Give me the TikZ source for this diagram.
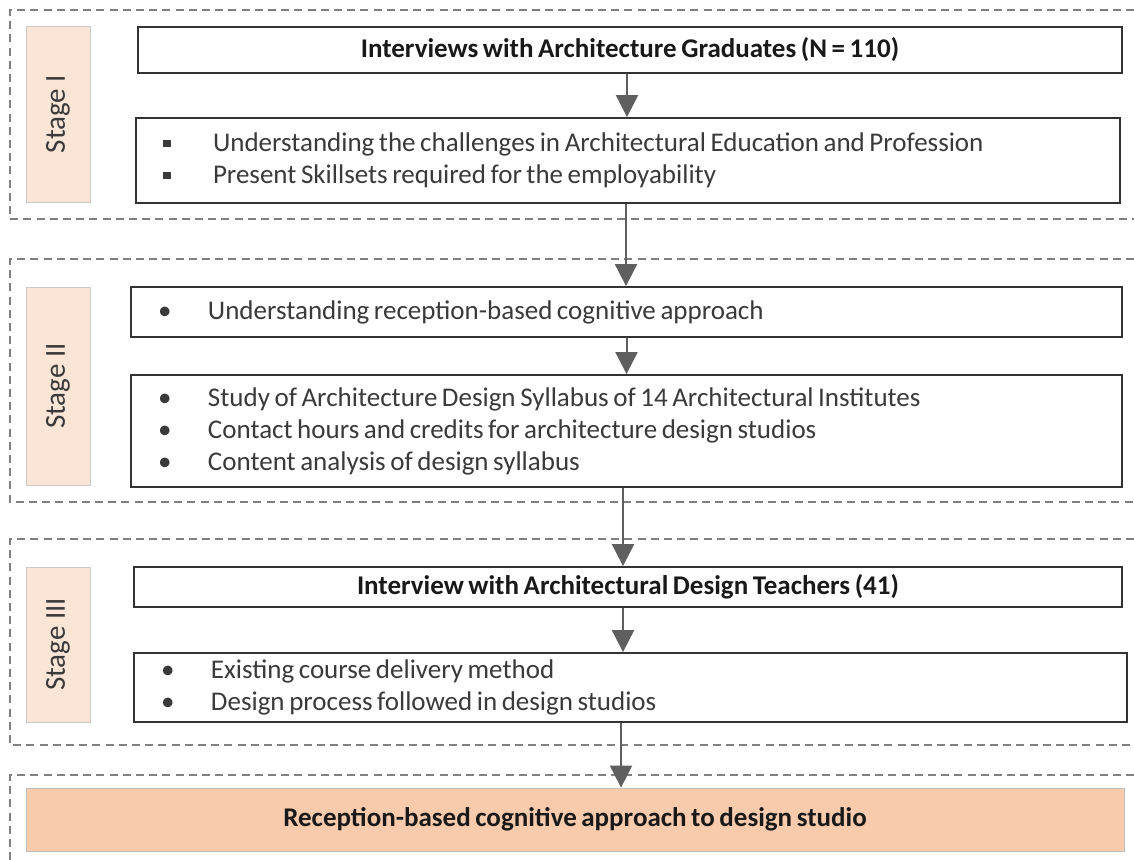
\documentclass[tikz,border=0pt]{standalone}
\usepackage{fontspec}
\setmainfont{Carlito}[WordSpace=0.75]
\newfontfamily\stagefont{Carlito}
\usepackage{xcolor}
\definecolor{stagefill}{HTML}{FBE5D6}
\definecolor{stageline}{HTML}{C9C9C9}
\definecolor{finalfill}{HTML}{F8CBAD}
\definecolor{finalline}{HTML}{BFBFBF}
\definecolor{flowgray}{HTML}{5F5F5F}
\definecolor{framegray}{HTML}{808080}
\definecolor{textgray}{HTML}{3A3A3A}
\usetikzlibrary{positioning,arrows.meta,calc}
\newcommand{\boxfont}{\fontsize{13.5}{16}\selectfont}
\newcommand{\sqbul}{\rule[2.2pt]{3.8pt}{3.8pt}}
\newcommand{\rdbul}{\textbullet}
\newcommand{\itm}[1]{\makebox[25pt][l]{#1}}
\tikzset{
  stagebox/.style={rectangle,draw=stageline,fill=stagefill,rotate=90,minimum height=32pt,
                   inner sep=0pt,text=textgray,font=\stagefont\fontsize{14.5}{16}\selectfont},
  titlebox/.style={rectangle,draw=black!80,line width=0.9pt,fill=white,inner sep=0pt,
                   font=\boxfont\bfseries,text=black!90},
  listbox/.style ={rectangle,draw=black!80,line width=0.9pt,fill=white,inner xsep=13.5pt,
                   inner ysep=0pt,align=flush left,text=textgray,font=\boxfont},
  finalbox/.style={rectangle,draw=finalline,fill=finalfill,inner sep=0pt,
                   font=\boxfont\bfseries,text=black!90},
  frame/.style   ={draw=framegray,line width=0.75pt,dash pattern=on 4pt off 2.6pt},
  flow/.style    ={-{Triangle[length=11pt,width=11pt]},line width=1pt,draw=flowgray},
}

\begin{document}
\begin{tikzpicture}[x=0.5pt,y=-0.5pt]
  \useasboundingbox (0,0) rectangle (1134,860);
  % dashed stage frames
  \draw[frame] (1134,10) -- (10,10) -- (10,219) -- (1134,219);
  \draw[frame] (1134,259) -- (10,259) -- (10,502) -- (1134,502);
  \draw[frame] (1134,539) -- (10,539) -- (10,745) -- (1134,745);
  \draw[frame] (1134,775) -- (10,775) -- (10,860);
  % stage labels
  \node[stagebox,minimum width=88pt] (s1) at (58,114) {Stage I};
  \node[stagebox,minimum width=99pt] (s2) at (58,386) {Stage II};
  \node[stagebox,minimum width=77.5pt] (s3) at (58,644.5) {Stage III};
  % stage I
  \node[titlebox,minimum width=492pt,minimum height=23pt] (grad) at (630,50)
    {Interviews with Architecture Graduates (N = 110)};
  \node[listbox,text width=465pt,minimum height=42.5pt] (chal) at (628,160.5)
    {\itm{\sqbul}Understanding the challenges in Architectural Education and Profession\\
     \itm{\sqbul}Present Skillsets required for the employability};
  % stage II
  \node[listbox,text width=468.5pt,minimum height=25pt] (recp) at (626.5,312)
    {\itm{\rdbul}Understanding reception-based cognitive approach};
  \node[listbox,text width=468.5pt,minimum height=56pt] (syll) at (626.5,431)
    {\itm{\rdbul}Study of Architecture Design Syllabus of 14 Architectural Institutes\\
     \itm{\rdbul}Contact hours and credits for architecture design studios\\
     \itm{\rdbul}Content analysis of design syllabus};
  % stage III
  \node[titlebox,minimum width=494pt,minimum height=20pt] (teach) at (628,587)
    {Interview with Architectural Design Teachers (41)};
  \node[listbox,text width=469.5pt,minimum height=34.5pt] (meth) at (630.5,687.5)
    {\itm{\rdbul}Existing course delivery method\\
     \itm{\rdbul}Design process followed in design studios};
  % outcome
  \node[finalbox,minimum width=549pt,minimum height=31.5pt] (out) at (575,819.5)
    {Reception-based cognitive approach to design studio};
  % connectors
  \draw[flow] ([xshift=-1.5pt]grad.south) -- ([xshift=-1.5pt]grad.south |- chal.north);
  \draw[flow] ([xshift=-1pt]chal.south) -- ([xshift=-1pt]chal.south |- recp.north);
  \draw[flow] (recp.south) -- (recp.south |- syll.north);
  \draw[flow] ([xshift=-1.75pt]syll.south) -- ([xshift=-1.75pt]syll.south |- teach.north);
  \draw[flow] ([xshift=-2.5pt]teach.south) -- ([xshift=-2.5pt]teach.south |- meth.north);
  \draw[flow] ([xshift=-4.75pt]meth.south) -- ([xshift=-4.75pt]meth.south |- out.north);
\end{tikzpicture}
\end{document}
